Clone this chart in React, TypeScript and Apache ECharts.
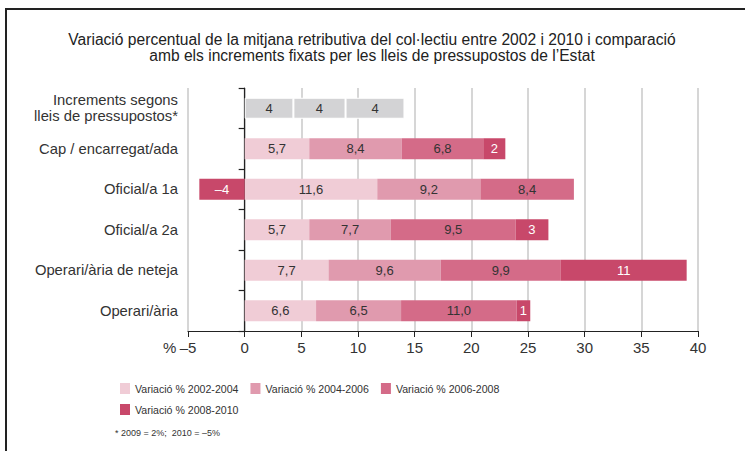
import React, { useEffect, useRef } from "react";
import * as echarts from "echarts";

const categories = [
  "Increments segons\nlleis de pressupostos*",
  "Cap / encarregat/ada",
  "Oficial/a 1a",
  "Oficial/a 2a",
  "Operari/ària de neteja",
  "Operari/ària",
];
const seriesNames = [
  "Variació % 2002-2004",
  "Variació % 2004-2006",
  "Variació % 2006-2008",
  "Variació % 2008-2010",
];
// bar lengths as drawn in the picture
const v2002_2004 = [4.3, 5.7, 11.7, 5.7, 7.4, 6.3];
const v2004_2006 = [4.6, 8.15, 9.1, 7.2, 9.9, 7.5];
const v2006_2008 = [5.2, 7.2, 8.25, 11.0, 10.6, 10.2];
const v2008_2010 = [null, 1.95, -4, 2.9, 11.1, 1.2];
// labels printed on the bars
const l2002_2004 = ["4", "5,7", "11,6", "5,7", "7,7", "6,6"];
const l2004_2006 = ["4", "8,4", "9,2", "7,7", "9,6", "6,5"];
const l2006_2008 = ["4", "6,8", "8,4", "9,5", "9,9", "11,0"];
const l2008_2010 = ["", "2", "–4", "3", "11", "1"];
const xTicks = { min: -5, max: 40, interval: 5 };
const footnote = "* 2009 = 2%;  2010 = –5%";
const titleText =
  "Variació percentual de la mitjana retributiva del col·lectiu entre 2002 i 2010 i comparació\namb els increments fixats per les lleis de pressupostos de l’Estat";

const colors = ["#f0ccd6", "#e09aae", "#d46b88", "#c8486a"];
const grey = "#d3d3d5";
const FONT = "'Liberation Sans', Arial, sans-serif";

export default function App() {
  const ref = useRef<HTMLDivElement>(null);
  useEffect(() => {
    if (!ref.current) return;
    const chart = echarts.init(ref.current, undefined, { renderer: "svg" });
    const values = [v2002_2004, v2004_2006, v2006_2008, v2008_2010];
    const labels = [l2002_2004, l2004_2006, l2006_2008, l2008_2010];
    const series = values.map((vals, si) => ({
      name: seriesNames[si],
      type: "bar",
      stack: "total",
      barWidth: 21,
      itemStyle: { color: colors[si] },
      label: {
        show: true,
        position: "inside",
        fontFamily: FONT,
        fontSize: 13,
        color: si === 3 ? "#ffffff" : "#333333",
        formatter: (p: any) => labels[si][p.dataIndex],
      },
      data: vals.map((v, i) =>
        i === 0 && v !== null
          ? { value: v, itemStyle: { color: grey, borderColor: "#ffffff", borderWidth: 1 } }
          : v
      ),
    }));
    const legendCommon = {
      left: 115,
      itemWidth: 10,
      itemHeight: 11,
      itemGap: 12,
      icon: "rect",
      textStyle: { fontFamily: FONT, fontSize: 10.6, color: "#333333" },
      selectedMode: false,
    };
    chart.setOption({
      animation: false,
      backgroundColor: "#ffffff",
      textStyle: { fontFamily: FONT },
      legend: [
        { ...legendCommon, data: seriesNames.slice(0, 3), top: 378 },
        { ...legendCommon, data: seriesNames.slice(3), top: 399 },
      ],
      grid: { left: 188, right: 47, top: 88, height: 243, containLabel: false },
      xAxis: {
        type: "value",
        min: xTicks.min,
        max: xTicks.max,
        interval: xTicks.interval,
        axisLine: { show: true, lineStyle: { color: "#222222", width: 1.2 } },
        axisTick: { show: true, length: 6, lineStyle: { color: "#222222" } },
        axisLabel: {
          margin: 9,
          fontFamily: FONT,
          fontSize: 15,
          color: "#333333",
          formatter: (v: number) => (v < 0 ? "–" + Math.abs(v) : String(v)),
        },
        splitLine: { show: true, lineStyle: { color: "#c8c8c8", width: 1.5 } },
      },
      yAxis: {
        type: "category",
        data: categories,
        inverse: true,
        axisLine: { show: true, lineStyle: { color: "#222222", width: 1.2 } },
        axisTick: { show: true, length: 6, lineStyle: { color: "#222222", width: 1.2 } },
        axisLabel: {
          margin: 10,
          fontFamily: FONT,
          fontSize: 14.8,
          lineHeight: 16,
          color: "#333333",
          align: "right",
        },
        splitLine: { show: false },
      },
      graphic: [
        { type: "line", shape: { x1: 5, y1: 9, x2: 745, y2: 9 }, style: { stroke: "#222222", lineWidth: 2 } },
        { type: "line", shape: { x1: 6, y1: 9, x2: 6, y2: 451 }, style: { stroke: "#222222", lineWidth: 2 } },
        {
          type: "text",
          x: 372,
          y: 31,
          style: {
            text: titleText,
            fontFamily: FONT,
            fontSize: 15.6,
            lineHeight: 16,
            fill: "#222222",
            textAlign: "center",
          },
        },
        {
          type: "text",
          left: 163,
          top: 340,
          style: { text: "%", fontFamily: FONT, fontSize: 15, fill: "#333333" },
        },
        {
          type: "text",
          left: 115,
          top: 428,
          style: { text: footnote, fontFamily: FONT, fontSize: 9, fill: "#333333" },
        },
      ],
      series,
    });
    return () => chart.dispose();
  }, []);
  return (
    <div
      ref={ref}
      style={{ position: "fixed", left: 0, top: 0, width: 745, height: 451 }}
    />
  );
}
